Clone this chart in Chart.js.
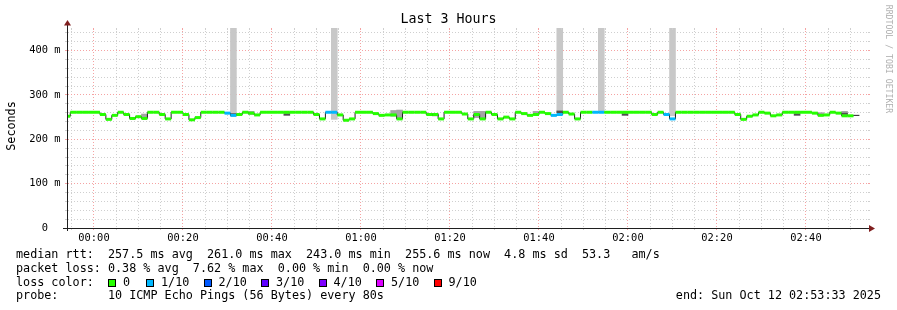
<!DOCTYPE html>
<html><head><meta charset="utf-8">
<script src="https://cdn.jsdelivr.net/npm/chart.js@4.4.1/dist/chart.umd.min.js"></script>
<style>
html,body{margin:0;padding:0;background:#fff;}
#wrap{position:relative;width:897px;height:310px;overflow:hidden;background:#fff;}
#c{position:absolute;left:0;top:0;}
.txt{position:absolute;font-family:'DejaVu Sans Mono',monospace;white-space:pre;color:#000;}
.row{left:16px;font-size:11.75px;line-height:14px;}
.box{position:absolute;width:6px;height:6px;border:1px solid #000;}
</style></head><body>
<div id="wrap">
<canvas id="c" width="897" height="310"></canvas>
<div class="txt" style="left:0;top:11.4px;width:897px;text-align:center;font-size:13.3px;line-height:16px;">Last 3 Hours</div>
<div class="txt" style="left:-19px;top:119px;width:60px;text-align:center;font-size:11.75px;line-height:14px;transform:rotate(-90deg);transform-origin:50% 50%;">Seconds</div>
<div class="txt" style="left:828.5px;top:54px;width:120px;text-align:center;font-size:8.2px;line-height:10px;color:#b0b0b0;transform:rotate(90deg);transform-origin:50% 50%;">RRDTOOL / TOBI OETIKER</div>
<div class="txt row" style="top:247.3px">median rtt:  257.5 ms avg  261.0 ms max  243.0 ms min  255.6 ms now  4.8 ms sd  53.3   am/s</div>
<div class="txt row" style="top:261px">packet loss: 0.38 % avg  7.62 % max  0.00 % min  0.00 % now</div>
<div class="txt row" style="top:274.7px">loss color:</div>
<div class="txt row" style="top:288.4px">probe:       10 ICMP Echo Pings (56 Bytes) every 80s</div>
<div class="txt row" style="top:288.4px;left:auto;right:16px;">end: Sun Oct 12 02:53:33 2025</div>
</div>
<script>
// ---- data (median RTT in ms per 80-second step) ----
const firstStepStart = '23:53:20';   // start of first 80 s step (Oct 11)
const stepSeconds = 80;
const axisStart = '23:53:56';
const axisEnd = '02:53:56';

const medianRtt = [
  252, 261, 261, 261, 261, 261, 256, 245, 254, 261,
  256, 247, 251, 247, 261, 261, 256, 246, 261, 261,
  256, 244, 249, 261, 261, 261, 261, 259, 254, 256,
  261, 259, 255, 261, 261, 261, 261, 261, 261, 261,
  261, 261, 256, 246, 261, 261, 255, 243, 246, 261,
  261, 261, 258, 254, 255, 255, 246, 261, 261, 261,
  261, 256, 256, 246, 261, 261, 261, 257, 246, 256,
  246, 261, 256, 246, 250, 246, 261, 258, 254, 256,
  261, 258, 254, 256, 261, 257, 246, 261, 261, 261,
  261, 261, 261, 261, 261, 261, 261, 261, 261, 256,
  261, 256, 246, 261, 261, 261, 261, 261, 261, 261,
  261, 261, 261, 256, 245, 252, 255, 261, 259, 253,
  255, 261, 261, 261, 261, 261, 259, 254, 255, 261,
  259, 253, 253, 254
];
// pings lost out of 10 for each step (null = unknown)
const lostPings = [
  0,0,0,0,0,0,0,0,0,0,
  0,0,0,0,0,0,0,0,0,0,
  0,0,0,0,0,0,0,1,1,0,
  0,0,0,0,0,0,0,0,0,0,
  0,0,0,0,1,1,0,0,0,0,
  0,0,0,0,0,0,0,0,0,0,
  0,0,0,0,0,0,0,0,0,0,
  0,0,0,0,0,0,0,0,0,0,
  0,0,1,1,0,0,0,0,0,1,
  1,0,0,0,0,0,0,0,0,0,
  0,1,1,0,0,0,0,0,0,0,
  0,0,0,0,0,0,0,0,0,0,
  0,0,0,0,0,0,0,0,0,0,
  0,0,0,null
];
// smoke: outlier pings (light), spread (medium), dense (dark)
const outlierSteps = [28, 45, 83, 90, 102];
const outlierLow   = [252, 245, 258, 261, 253];
const outlierHigh  = [451, 451, 451, 451, 451];
const spreadSteps = [13, 31, 55, 56, 69, 70, 79, 127, 131];
const spreadLow   = [251, 256, 252, 246, 249, 246, 256, 254, 253];
const spreadHigh  = [257, 263, 265, 266, 263, 263, 263, 260, 263];
const denseSteps = [28, 37, 62, 83, 94, 123, 131];
const denseLow   = [255, 254, 253, 260, 254, 254, 256];
const denseHigh  = [258, 258, 258, 264, 258, 258, 259];

const lossLevels = [0, 1, 2, 3, 4, 5, 9];
const lossLabels = ['0', '1/10', '2/10', '3/10', '4/10', '5/10', '9/10'];
const lossColors = ['#26ff00', '#00b8ff', '#0059ff', '#5e00ff', '#7e00ff', '#dd00ff', '#ff0000'];

const xTickValues = [0, 20, 40, 60, 80, 100, 120, 140, 160];
const xTickLabels = ['00:00', '00:20', '00:40', '01:00', '01:20', '01:40', '02:00', '02:20', '02:40'];
const yTickValues = [0, 100, 200, 300, 400];
const yTickLabels = ['0  ', '100 m', '200 m', '300 m', '400 m'];
const yMax = 451;

// ---- helpers ----
function toMin(s) { // minutes relative to 00:00 Oct 12
  const [h, m, sec] = s.split(':').map(Number);
  let v = h * 60 + m + sec / 60;
  if (h >= 12) v -= 1440;
  return v;
}
const t0 = toMin(firstStepStart);
const stepMin = stepSeconds / 60;
const starts = medianRtt.map((_, k) => t0 + k * stepMin);
function lossColor(p) {
  let idx = 0;
  lossLevels.forEach((l, i) => { if (p >= l) idx = i; });
  return lossColors[idx];
}

// legend boxes
const wrap = document.getElementById('wrap');
lossLabels.forEach((lab, i) => {
  const left = 108 + (i === 0 ? 0 : 38 + (i - 1) * 57.5);
  const b = document.createElement('div');
  b.className = 'box';
  b.style.left = left + 'px'; b.style.top = '279px';
  b.style.background = lossColors[i];
  wrap.appendChild(b);
  const t = document.createElement('div');
  t.className = 'txt row';
  t.style.left = (left + 15) + 'px'; t.style.top = '274.7px';
  t.textContent = lab;
  wrap.appendChild(t);
});

// datasets
const medianLine = medianRtt.map((v, k) => ({x: starts[k], y: v}));
medianLine.push({x: starts[starts.length - 1] + stepMin, y: medianRtt[medianRtt.length - 1]});
const coloredSegs = [];
medianRtt.forEach((v, k) => {
  const ok = lostPings[k] !== null;
  coloredSegs.push({x: starts[k], y: ok ? v : null});
  coloredSegs.push({x: starts[k] + stepMin, y: ok ? v : null});
  coloredSegs.push({x: starts[k] + stepMin, y: null});
});
const barsOf = (steps, lo, hi) => steps.map((k, i) => ({x: starts[k] + stepMin / 2, y: [lo[i], hi[i]]}));

const barCommon = {type: 'bar', grouped: false, categoryPercentage: 1, barPercentage: 1, borderWidth: 0, clip: 0};

const GRID = '#cfcfcf';
const MGRID = '#f5a3a3';
const FONT = {family: "'DejaVu Sans Mono'", size: 10.4};

const axisDeco = {
  id: 'axisDeco',
  afterDraw(chart) {
    const {ctx, chartArea: a, scales} = chart;
    const x0 = Math.floor(a.left) + 0.5, y0 = Math.floor(a.bottom) + 0.5;
    ctx.save();
    ctx.lineWidth = 1;
    scales.x.ticks.forEach(t => {
      const px = Math.floor(scales.x.getPixelForValue(t.value)) + 0.5;
      ctx.strokeStyle = t.value % 20 === 0 ? MGRID : GRID;
      ctx.beginPath(); ctx.moveTo(px, a.top); ctx.lineTo(px, a.top + 2); ctx.stroke();
    });
    scales.y.ticks.forEach(t => {
      const py = Math.floor(scales.y.getPixelForValue(t.value)) + 0.5;
      ctx.strokeStyle = t.value % 100 === 0 ? MGRID : GRID;
      ctx.beginPath(); ctx.moveTo(a.right, py); ctx.lineTo(a.right + 2, py); ctx.stroke();
    });
    ctx.strokeStyle = '#1f1f1f';
    ctx.beginPath();
    ctx.moveTo(x0, a.top - 3); ctx.lineTo(x0, a.bottom + 3);
    ctx.moveTo(a.left - 4, y0); ctx.lineTo(a.right + 2, y0);
    ctx.stroke();
    ctx.fillStyle = '#801f1f';
    ctx.beginPath(); ctx.moveTo(x0 - 3.5, a.top - 2.5); ctx.lineTo(x0 + 3.5, a.top - 2.5); ctx.lineTo(x0, a.top - 8); ctx.closePath(); ctx.fill();
    ctx.beginPath(); ctx.moveTo(a.right + 1, y0 - 3.5); ctx.lineTo(a.right + 1, y0 + 3.5); ctx.lineTo(a.right + 7, y0); ctx.closePath(); ctx.fill();
    ctx.restore();
  }
};

new Chart(document.getElementById('c'), {
  type: 'line',
  data: {
    datasets: [
      Object.assign({}, barCommon, {data: barsOf(outlierSteps, outlierLow, outlierHigh), backgroundColor: '#c8c8c8', order: 10}),
      Object.assign({}, barCommon, {data: barsOf(spreadSteps, spreadLow, spreadHigh), backgroundColor: '#a4a4a4', order: 9}),
      Object.assign({}, barCommon, {data: barsOf(denseSteps, denseLow, denseHigh), backgroundColor: '#505050', order: 8}),
      {data: medianLine, stepped: true, borderColor: '#202020', borderWidth: 1, pointRadius: 0, fill: false, clip: 0, order: 2},
      {data: coloredSegs, borderWidth: 3, borderCapStyle: 'butt', pointRadius: 0, fill: false, spanGaps: false, clip: 0, order: 1,
       borderColor: lossColors[0],
       segment: {borderColor: c => lossColor(lostPings[Math.floor(c.p0DataIndex / 3)])}}
    ]
  },
  options: {
    responsive: false, animation: false, devicePixelRatio: 1,
    layout: {padding: {left: 0, top: 28, right: 29, bottom: 0}},
    plugins: {legend: {display: false}, tooltip: {enabled: false}, title: {display: false}},
    scales: {
      x: {
        type: 'linear', min: toMin(axisStart), max: toMin(axisEnd), offset: false,
        afterBuildTicks: s => {
          const ts = [];
          for (let v = Math.ceil(s.min / 5) * 5; v < s.max; v += 5) ts.push({value: v});
          s.ticks = ts;
        },
        afterFit: s => { s.height = 82; },
        ticks: {
          autoSkip: false, maxRotation: 0, minRotation: 0, padding: 1.8, color: '#000', font: FONT,
          callback: v => { const i = xTickValues.indexOf(v); return i >= 0 ? xTickLabels[i] : ''; }
        },
        grid: {
          offset: false,
          color: c => (c.tick && c.tick.value % 20 === 0) ? MGRID : GRID,
          lineWidth: 1, drawTicks: true, tickLength: 2,
          tickColor: c => (c.tick && c.tick.value % 20 === 0) ? MGRID : GRID
        },
        border: {display: true, color: '#1f1f1f', width: 1, dash: [1, 2]}
      },
      y: {
        type: 'linear', min: 0, max: yMax, offset: false,
        afterBuildTicks: s => {
          const ts = [];
          for (let v = 0; v < s.max; v += 20) ts.push({value: v});
          s.ticks = ts;
        },
        afterFit: s => { s.width = 67; },
        ticks: {
          autoSkip: false, padding: 4.5, color: '#000', font: FONT,
          callback: v => { const i = yTickValues.indexOf(v); return i >= 0 ? yTickLabels[i] : ''; }
        },
        grid: {
          color: c => (c.tick && c.tick.value % 100 === 0) ? MGRID : GRID,
          lineWidth: 1, drawTicks: true, tickLength: 2,
          tickColor: c => (c.tick && c.tick.value % 100 === 0) ? MGRID : GRID
        },
        border: {display: true, color: '#1f1f1f', width: 1, dash: [1, 2]}
      }
    }
  },
  plugins: [axisDeco]
});
</script>
</body></html>
